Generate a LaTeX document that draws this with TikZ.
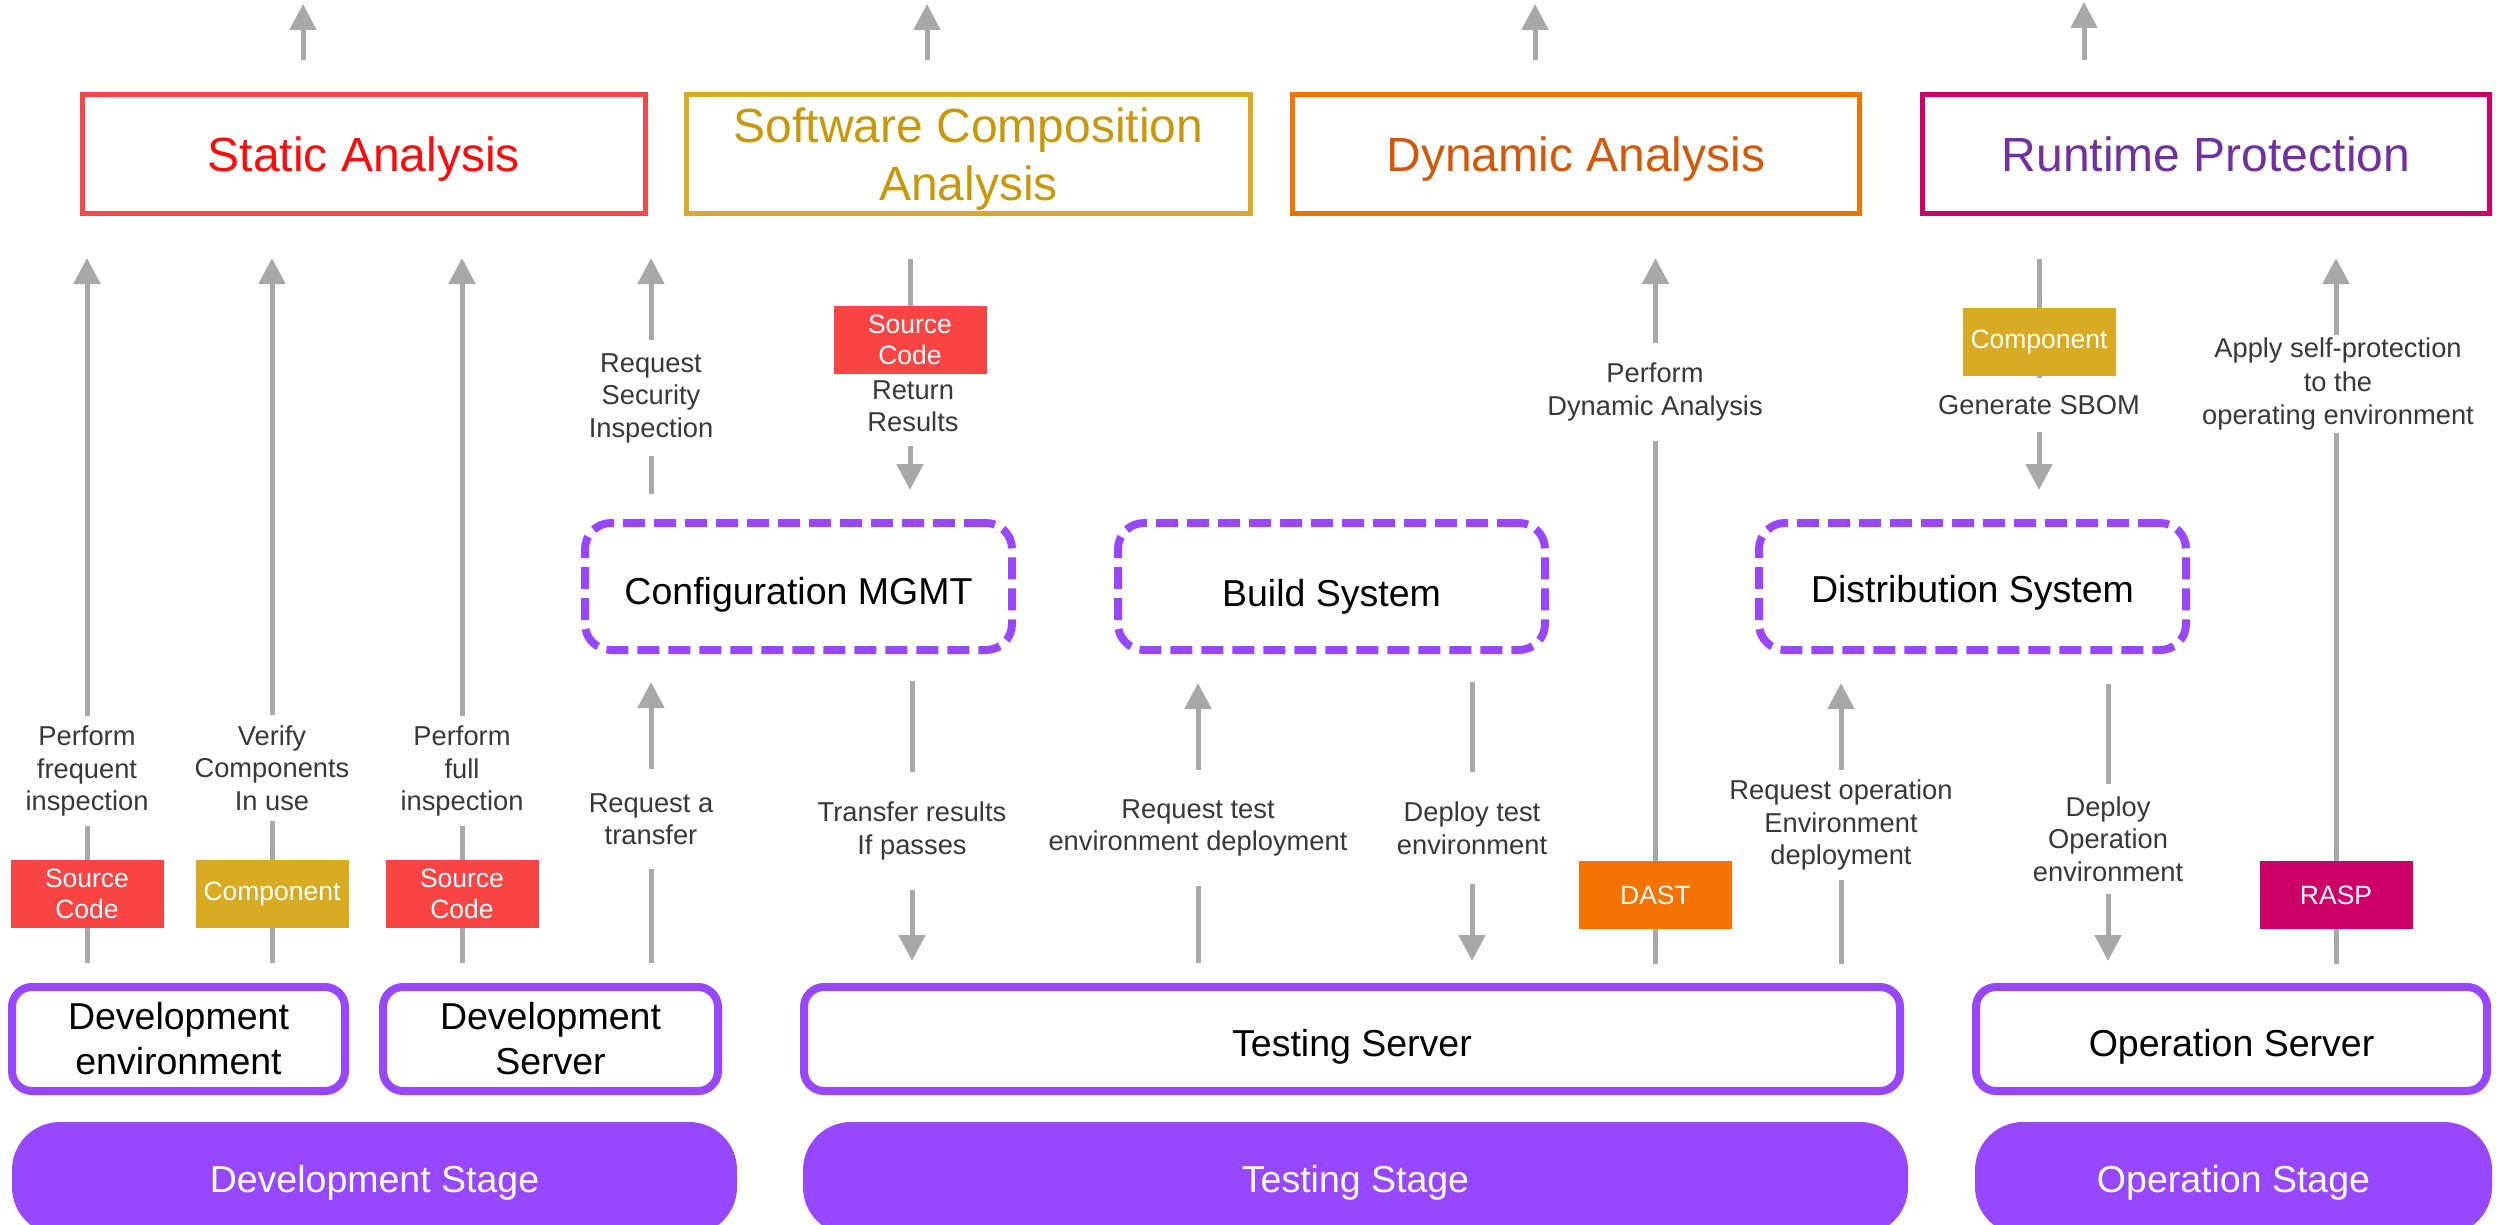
\documentclass[tikz,border=0pt]{standalone}
\usepackage{fontspec}
\setmainfont{Liberation Sans}
\usetikzlibrary{arrows.meta}
\pgfdeclarelayer{bg}
\pgfsetlayers{bg,main}
\definecolor{vio}{HTML}{9747FF}
\definecolor{arrowgray}{HTML}{A8A8A8}
\definecolor{labgray}{HTML}{383838}
\definecolor{scred}{HTML}{F94444}
\definecolor{compyel}{HTML}{D9AB22}
\definecolor{dastor}{HTML}{F47300}
\definecolor{raspmag}{HTML}{CC0066}
\definecolor{stbord}{HTML}{F54949}
\definecolor{sttext}{HTML}{FF0A0A}
\definecolor{scatext}{HTML}{C8980A}
\definecolor{dyntext}{HTML}{D4580A}
\definecolor{rttext}{HTML}{7030A0}
\begin{document}
\begin{tikzpicture}[x=1pt,y=-1pt,
  arr/.style={draw=arrowgray, line width=5pt, -{Triangle[length=26pt,width=26pt]}},
  topbox/.style={draw, line width=5pt, minimum height=119pt, align=center, inner sep=0pt, text depth=0pt, font=\fontsize{48}{58}\selectfont},
  dbox/.style={draw=vio, line width=8pt, dash pattern=on 22pt off 9pt, rounded corners=26pt, minimum width=427pt, minimum height=127pt, inner sep=0pt, text height=35pt, text depth=0pt, font=\fontsize{37.5}{45}\selectfont},
  sbox/.style={draw=vio, fill=white, line width=8pt, rounded corners=20pt, minimum height=104pt, align=center, inner sep=0pt, font=\fontsize{37.5}{45}\selectfont},
  stage/.style={fill=vio, rounded corners=48pt, minimum height=113pt, text=white, inner sep=0pt, text depth=0pt, font=\fontsize{37.5}{45}\selectfont},
  tag/.style={minimum width=153pt, minimum height=68pt, inner sep=0pt, text=white, align=center, font=\fontsize{26.5}{31}\selectfont},
  lab/.style={fill=white, text=labgray, align=center, inner xsep=4pt, inner ysep=10pt, font=\fontsize{27.3}{32.5}\selectfont},
]
\useasboundingbox (0,0) rectangle (2496,1225);
\clip (0,0) rectangle (2496,1225);

% top boxes
\node[topbox, draw=stbord, text=sttext, minimum width=563pt] (static) at (364,154) {Static Analysis};
\node[topbox, draw=compyel, text=scatext, minimum width=564pt] (sca) at (968.5,154) {Software Composition\\Analysis};
\node[topbox, draw=dastor, text=dyntext, minimum width=567pt] (dyn) at (1576,154) {Dynamic Analysis};
\node[topbox, draw=raspmag, text=rttext, minimum width=567pt] (rt) at (2206,154) {Runtime Protection};

% dashed systems
\node[dbox] (config) at (798.5,586.5) {Configuration MGMT};
\node[dbox, text height=39pt] (build) at (1331.5,586.5) {Build System};
\node[dbox, text height=31pt] (dist) at (1972.5,586.5) {Distribution System};

% servers
\node[sbox, minimum width=333pt] (devenv) at (178.5,1039) {Development\\environment};
\node[sbox, minimum width=335pt] (devserver) at (550.5,1039) {Development\\Server};
\node[sbox, minimum width=1096pt, text height=35pt, text depth=0pt] (testing) at (1352,1039) {Testing Server};
\node[sbox, minimum width=511pt, text height=35pt, text depth=0pt] (operation) at (2231.5,1039) {Operation Server};

% stages
\node[stage, minimum width=725pt] (devstage) at (374.5,1178.5) {Development Stage};
\node[stage, minimum width=1105pt] (teststage) at (1355.5,1178.5) {Testing Stage};
\node[stage, minimum width=517pt] (opstage) at (2233.5,1178.5) {Operation Stage};

% labels
\node[lab] (lab1) at (87,771) {Perform\\frequent\\inspection};
\node[lab] (lab2) at (272,768) {Verify\\Components\\In use};
\node[lab] (lab3) at (462,771) {Perform\\full\\inspection};
\node[lab, inner ysep=13pt] (lab4) at (651,398) {Request\\Security\\Inspection};
\node[lab, inner ysep=24pt] (lab5) at (651,819) {Request a\\transfer};
\node[lab, inner ysep=14pt] (lab6) at (913,406) {Return\\Results};
\node[lab, inner ysep=30pt] (lab7) at (912,831) {Transfer results\\If passes};
\node[lab, inner ysep=30pt] (lab8) at (1198,828) {Request test\\environment deployment};
\node[lab, inner ysep=30pt] (lab9) at (1472,828) {Deploy test\\environment};
\node[lab, inner ysep=20pt] (lab10) at (1655,392) {Perform\\Dynamic Analysis};
\node[lab, inner ysep=10pt] (lab11) at (1841,825) {Request operation\\Environment\\deployment};
\node[lab, inner ysep=17pt] (lab12) at (2039,405) {Generate SBOM};
\node[lab, inner ysep=12pt] (lab13) at (2108,839) {Deploy\\Operation\\environment};
\node[lab, inner ysep=3pt, font=\fontsize{27.3}{33.5}\selectfont] (lab14) at (2338,384) {Apply self-protection\\to the\\operating environment};

% tags
\node[tag, fill=scred] (sc1) at (87,893.5) {Source\\Code};
\node[tag, fill=compyel] (comp1) at (272,893.5) {Component};
\node[tag, fill=scred] (sc2) at (462,893.5) {Source\\Code};
\node[tag, fill=scred] (sc3) at (910,340) {Source\\Code};
\node[tag, fill=dastor] (dast) at (1655.5,895) {DAST};
\node[tag, fill=compyel] (comp2) at (2039,341.5) {Component};
\node[tag, fill=raspmag] (rasp) at (2336,895) {RASP};

% free ends
\coordinate (up1) at (303,4);
\coordinate (up2) at (927,4);
\coordinate (up3) at (1535,4);
\coordinate (up4) at (2084,2);

\begin{pgfonlayer}{bg}
\draw[arr, shorten <=32pt] (up1 |- static.north) -- (up1);
\draw[arr, shorten <=32pt] (up2 |- sca.north) -- (up2);
\draw[arr, shorten <=32pt] (up3 |- dyn.north) -- (up3);
\draw[arr, shorten <=32pt] (up4 |- rt.north) -- (up4);

\draw[arr, shorten <=20pt, shorten >=42pt] (sc1 |- devenv.north) -- (sc1 |- static.south);
\draw[arr, shorten <=20pt, shorten >=42pt] (comp1 |- devenv.north) -- (comp1 |- static.south);
\draw[arr, shorten <=20pt, shorten >=42pt] (sc2 |- devserver.north) -- (sc2 |- static.south);
\draw[arr, shorten <=25pt, shorten >=42pt] (lab4 |- config.north) -- (lab4 |- static.south);
\draw[arr, shorten <=20pt, shorten >=28pt] (lab5 |- devserver.north) -- (lab5 |- config.south);
\draw[arr, shorten <=43pt, shorten >=29pt] (sc3 |- sca.south) -- (sc3 |- config.north);
\draw[arr, shorten <=27pt, shorten >=22pt] (lab7 |- config.south) -- (lab7 |- testing.north);
\draw[arr, shorten <=20pt, shorten >=29pt] (lab8 |- testing.north) -- (lab8 |- build.south);
\draw[arr, shorten <=28pt, shorten >=22pt] (lab9 |- build.south) -- (lab9 |- testing.north);
\draw[arr, shorten <=19pt, shorten >=42pt] (dast |- testing.north) -- (dast |- dyn.south);
\draw[arr, shorten <=19pt, shorten >=29pt] (lab11 |- testing.north) -- (lab11 |- dist.south);
\draw[arr, shorten <=43pt, shorten >=29pt] (comp2 |- rt.south) -- (comp2 |- dist.north);
\draw[arr, shorten <=30pt, shorten >=22pt] (lab13 |- dist.south) -- (lab13 |- operation.north);
\draw[arr, shorten <=19pt, shorten >=42pt] (rasp |- operation.north) -- (rasp |- rt.south);
\end{pgfonlayer}
\end{tikzpicture}
\end{document}
